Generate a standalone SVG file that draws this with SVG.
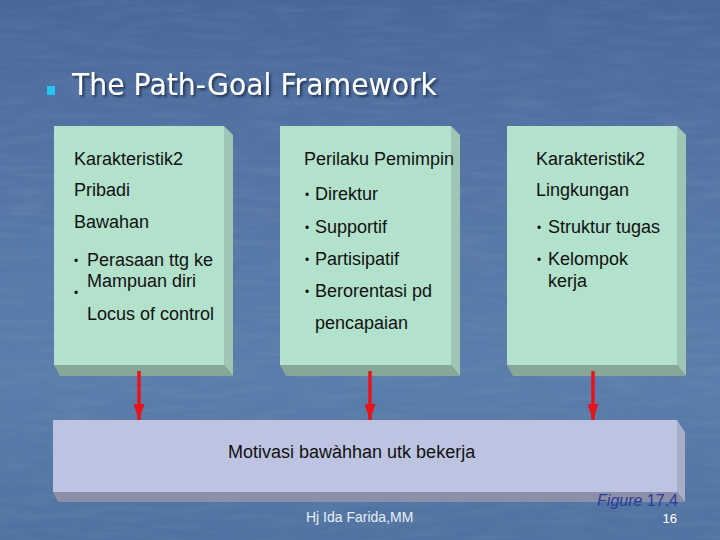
<svg xmlns="http://www.w3.org/2000/svg" width="720" height="540" viewBox="0 0 720 540">
<defs>
<linearGradient id="bg" x1="0" y1="0" x2="0" y2="1">
<stop offset="0" stop-color="#48689a"/>
<stop offset="0.35" stop-color="#5576a5"/>
<stop offset="0.7" stop-color="#5a7dab"/>
<stop offset="1" stop-color="#4f72a0"/>
</linearGradient>
<filter id="tex" x="0" y="0" width="100%" height="100%">
<feTurbulence type="fractalNoise" baseFrequency="0.02 0.15" numOctaves="3" seed="4" result="n"/>
<feColorMatrix in="n" type="matrix" values="0 0 0 0 1  0 0 0 0 1  0 0 0 0 1  0 0 0 0.9 -0.35"/>
</filter>
<filter id="shadow" x="-5%" y="-20%" width="110%" height="150%">
<feDropShadow dx="2" dy="2" stdDeviation="0.8" flood-color="#1a2840" flood-opacity="0.8"/>
</filter>
<marker id="ah" markerWidth="16" markerHeight="11" refX="16" refY="5.5" orient="auto" markerUnits="userSpaceOnUse" viewBox="0 0 16 11">
<path d="M0,0 L16,5.5 L0,11 Z" fill="#e8141c"/>
</marker>
<style>
.t{font-family:"Liberation Sans",Arial,sans-serif;font-size:18px;fill:#111}
.b{font-family:"Liberation Sans",Arial,sans-serif;font-size:12px;fill:#111}
.front{fill:#b2e1cc}
.side{fill:#9ec6b2}
.bot{fill:#88a897}
.bfront{fill:#bdc4e1}
.bside{fill:#a8adc8}
.bbot{fill:#8b90a8}
.arr{stroke:#e8141c;stroke-width:3.5;fill:none}
</style>
</defs>
<rect width="720" height="540" fill="url(#bg)"/>
<rect width="720" height="540" fill="#ffffff" filter="url(#tex)" opacity="0.12"/>

<g id="title">
<rect x="47" y="86" width="8" height="9" fill="#22c8f2"/>
<text x="72" y="95" font-family="'DejaVu Sans',Tahoma,sans-serif" font-size="31" fill="#ffffff" textLength="365" lengthAdjust="spacingAndGlyphs" filter="url(#shadow)">The Path-Goal Framework</text>
</g>

<g id="box1">
<polygon class="side" points="224,126 233,135 233,376 224,365"/>
<polygon class="bot" points="54,365 224,365 233,376 60,376"/>
<rect class="front" x="54" y="126" width="170" height="239"/>
<text class="t" x="74" y="165">Karakteristik2</text>
<text class="t" x="74" y="196">Pribadi</text>
<text class="t" x="74" y="228">Bawahan</text>
<text class="b" x="74" y="265">•</text>
<text class="t" x="87" y="266">Perasaan ttg ke</text>
<text class="t" x="87" y="287">Mampuan diri</text>
<text class="b" x="74" y="297">•</text>
<text class="t" x="87" y="320">Locus of control</text>
</g>

<g id="box2">
<polygon class="side" points="451,126 460,135 460,376 451,365"/>
<polygon class="bot" points="280,365 451,365 460,376 286,376"/>
<rect class="front" x="280" y="126" width="171" height="239"/>
<text class="t" x="304" y="165">Perilaku Pemimpin</text>
<text class="b" x="305" y="199">•</text>
<text class="t" x="315" y="200">Direktur</text>
<text class="b" x="305" y="232">•</text>
<text class="t" x="315" y="233">Supportif</text>
<text class="b" x="305" y="264">•</text>
<text class="t" x="315" y="265">Partisipatif</text>
<text class="b" x="305" y="296">•</text>
<text class="t" x="315" y="297">Berorentasi pd</text>
<text class="t" x="315" y="329">pencapaian</text>
</g>

<g id="box3">
<polygon class="side" points="677,126 686,135 686,376 677,365"/>
<polygon class="bot" points="507,365 677,365 686,376 513,376"/>
<rect class="front" x="507" y="126" width="170" height="239"/>
<text class="t" x="536" y="165">Karakteristik2</text>
<text class="t" x="536" y="196">Lingkungan</text>
<text class="b" x="537" y="232">•</text>
<text class="t" x="548" y="233">Struktur tugas</text>
<text class="b" x="537" y="264">•</text>
<text class="t" x="548" y="265">Kelompok</text>
<text class="t" x="548" y="287">kerja</text>
</g>

<g id="outcome">
<polygon class="bside" points="677,420 685,432 685,502 677,492"/>
<polygon class="bbot" points="53,492 677,492 685,502 58,502"/>
<rect class="bfront" x="53" y="420" width="624" height="72"/>
<text class="t" x="228" y="458">Motivasi bawàhhan utk bekerja</text>
</g>

<g id="connectors">
<line class="arr" x1="139" y1="371" x2="139" y2="420" marker-end="url(#ah)"/>
<line class="arr" x1="370" y1="371" x2="370" y2="420" marker-end="url(#ah)"/>
<line class="arr" x1="593" y1="371" x2="593" y2="420" marker-end="url(#ah)"/>
</g>

<g id="footer">
<text x="306" y="522" font-family="'Liberation Sans',Arial,sans-serif" font-size="14" fill="#e8eef8">Hj Ida Farida,MM</text>
<text x="678" y="506" text-anchor="end" font-family="'Liberation Sans',Arial,sans-serif" font-size="16" fill="#2b3a9c"><tspan font-style="italic">Figure</tspan> 17.4</text>
<text x="677" y="523" text-anchor="end" font-family="'Liberation Sans',Arial,sans-serif" font-size="13" fill="#ffffff">16</text>
</g>
</svg>
